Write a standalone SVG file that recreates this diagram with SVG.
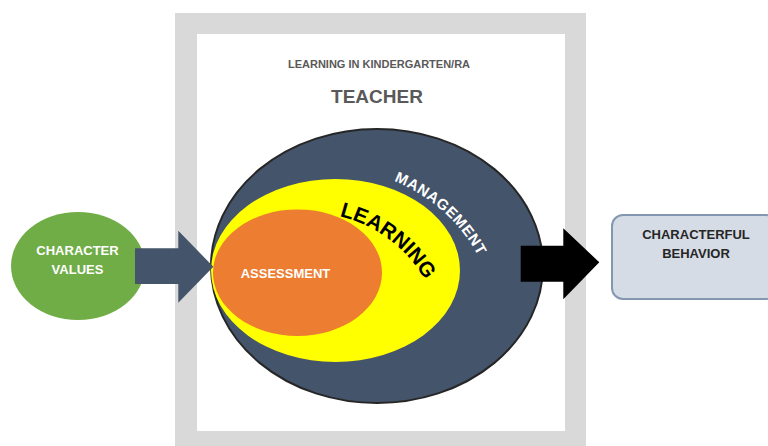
<svg xmlns="http://www.w3.org/2000/svg" xmlns:xlink="http://www.w3.org/1999/xlink" width="768" height="446" viewBox="0 0 768 446">
  <style>
    text { font-family: "Liberation Sans", Arial, sans-serif; font-weight: bold; }
    .white { fill: #FFFFFF; }
    .dark { fill: #262626; }
    .gray { fill: #595959; }
  </style>
  <defs>
    <path id="learnArc" d="M 339.5 216.1 A 135 135 0 0 1 438.4 312.5" fill="none"/>
    <path id="mgmtArc" d="M 394 181 A 165 165 0 0 1 492.6 292.3" fill="none"/>
  </defs>
  <rect x="0" y="0" width="768" height="446" fill="#FFFFFF"/>

  <g id="frame">
    <rect x="175" y="13" width="411" height="440" fill="#D9D9D9"/>
    <rect x="197" y="34" width="368" height="397" fill="#FFFFFF"/>
    <text x="379" y="68" font-size="11" text-anchor="middle" class="gray">LEARNING IN KINDERGARTEN/RA</text>
    <text x="377" y="103" font-size="19" text-anchor="middle" class="gray">TEACHER</text>
  </g>

  <g id="management">
    <ellipse cx="377" cy="266" rx="166" ry="137" fill="#44546A" stroke="#262626" stroke-width="2"/>
    <text font-size="15" letter-spacing="0.6" class="white"><textPath xlink:href="#mgmtArc" href="#mgmtArc">MANAGEMENT</textPath></text>
  </g>

  <g id="learning">
    <ellipse cx="335.5" cy="270.5" rx="124.5" ry="91.5" fill="#FFFF00"/>
    <text font-size="21" fill="#000000"><textPath xlink:href="#learnArc" href="#learnArc">LEARNING</textPath></text>
  </g>

  <g id="assessment">
    <ellipse cx="297.5" cy="272.7" rx="84.5" ry="63.3" fill="#ED7D31"/>
    <text x="285.5" y="277.7" font-size="13" text-anchor="middle" class="white">ASSESSMENT</text>
  </g>

  <g id="character-values">
    <ellipse cx="78" cy="266" rx="67" ry="54" fill="#70AD47"/>
    <text x="77.5" y="255" font-size="13" text-anchor="middle" class="white">CHARACTER</text>
    <text x="77.5" y="274" font-size="13" text-anchor="middle" class="white">VALUES</text>
  </g>

  <g id="characterful-behavior">
    <rect x="612" y="215" width="165" height="84" rx="11" ry="11" fill="#D6DCE5" stroke="#8497B0" stroke-width="2"/>
    <text x="696" y="239.3" font-size="13" text-anchor="middle" class="dark">CHARACTERFUL</text>
    <text x="696" y="258.3" font-size="13" text-anchor="middle" class="dark">BEHAVIOR</text>
  </g>

  <g id="connectors">
    <polygon points="135,248.3 178.3,248.3 178.3,230.7 213.3,266.7 178.3,302.7 178.3,284 135,284" fill="#44546A"/>
    <polygon points="520.7,245.7 563.3,245.7 563.3,228.3 599.3,262.3 563.3,299.3 563.3,281.7 520.7,281.7" fill="#000000"/>
  </g>
</svg>
